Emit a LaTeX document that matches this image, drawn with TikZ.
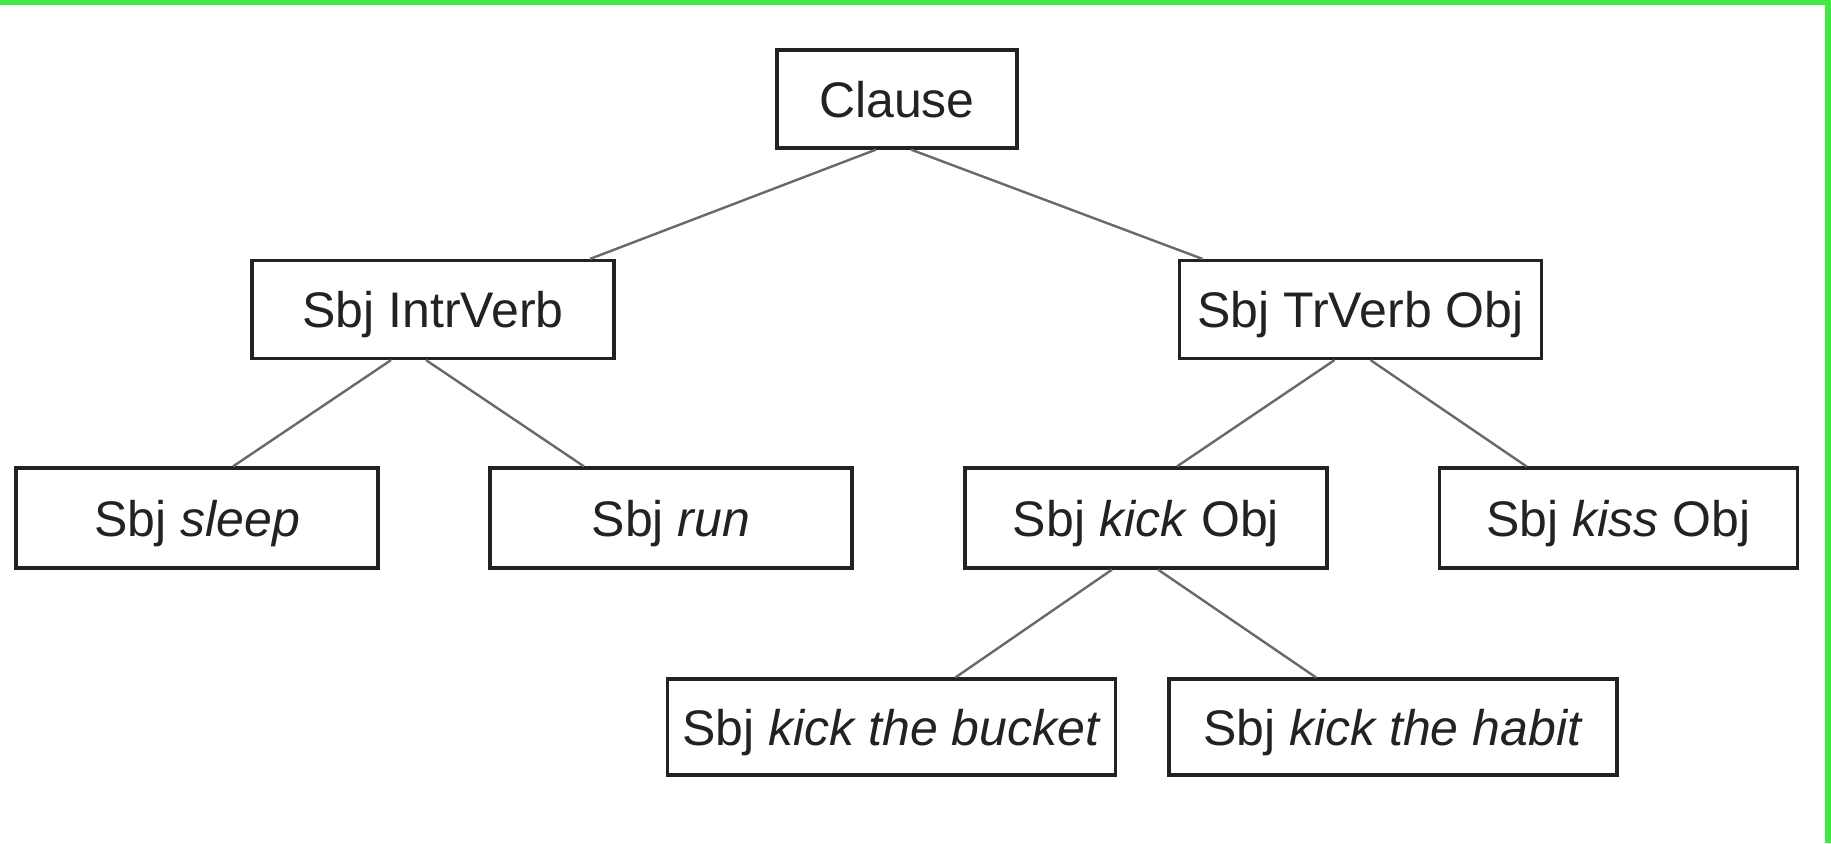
\documentclass[tikz,border=0pt]{standalone}
\usepackage{fontspec}
\setmainfont{Liberation Sans}
\definecolor{boxline}{RGB}{34,34,34}
\definecolor{linkgray}{RGB}{105,105,105}
\definecolor{framegreen}{RGB}{68,232,68}
\begin{document}
\begin{tikzpicture}[x=0.5pt,y=0.5pt,yscale=-1,xscale=1,
  box/.style={draw=boxline, line width=1.6pt, text=boxline, inner sep=0pt,
    text height=18pt, text depth=0pt, font=\fontsize{25}{30}\selectfont},
  link/.style={draw=linkgray, line width=1.2pt}]
\useasboundingbox (0,0) rectangle (1831,843);

%green frame at top and right
\fill[framegreen] (0,0) rectangle (1831,5);
\fill[framegreen] (1825,0) rectangle (1831,843);

% Text Node
\node[box, minimum width=120pt, minimum height=49pt] (clause) at (897,99) {Clause};
% Text Node
\node[box, minimum width=181pt, minimum height=49pt] (intr) at (433,309.5) {Sbj IntrVerb};
% Text Node
\node[box, minimum width=181pt, minimum height=49pt] (tr) at (1360.5,309.5) {Sbj TrVerb Obj};
% Text Node
\node[box, minimum width=181pt, minimum height=50pt] (sleep) at (197,518) {Sbj \textit{sleep}};
% Text Node
\node[box, minimum width=181pt, minimum height=50pt] (run) at (671,518) {Sbj \textit{run}};
% Text Node
\node[box, minimum width=181pt, minimum height=50pt] (kick) at (1146,518) {Sbj \textit{kick} Obj};
% Text Node
\node[box, minimum width=179pt, minimum height=50pt] (kiss) at (1618.5,518) {Sbj \textit{kiss} Obj};
% Text Node
\node[box, minimum width=224pt, minimum height=48pt] (bucket) at (891.5,727) {Sbj \textit{kick the bucket}};
% Text Node
\node[box, minimum width=224pt, minimum height=48pt] (habit) at (1393,727) {Sbj \textit{kick the habit}};

%Straight Lines
\draw[link] ([xshift=-10.5pt]clause.south) -- ([xshift=78.5pt]intr.north);
\draw[link] ([xshift=7pt]clause.south) -- ([xshift=-79pt]tr.north);
\draw[link] ([xshift=-21pt]intr.south) -- ([xshift=18pt]sleep.north);
\draw[link] ([xshift=-3.5pt]intr.south) -- ([xshift=-43.5pt]run.north);
\draw[link] ([xshift=-13pt]tr.south) -- ([xshift=15.5pt]kick.north);
\draw[link] ([xshift=5pt]tr.south) -- ([xshift=-46pt]kiss.north);
\draw[link] ([xshift=-17pt]kick.south) -- ([xshift=32pt]bucket.north);
\draw[link] ([xshift=6pt]kick.south) -- ([xshift=-38.5pt]habit.north);

\end{tikzpicture}
\end{document}
